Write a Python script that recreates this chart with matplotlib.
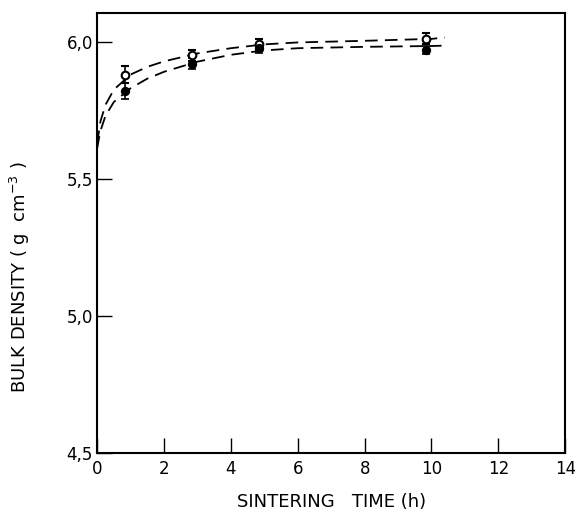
import matplotlib
matplotlib.use("Agg")
import matplotlib.pyplot as plt

# measured points (sintering time in h, bulk density in g/cm3)
time_pts = [0.82, 2.85, 4.85, 9.85]
dens_open = [5.88, 5.95, 5.99, 6.01]
err_open = [0.03, 0.02, 0.02, 0.02]
dens_filled = [5.82, 5.92, 5.975, 5.97]
err_filled = [0.03, 0.02, 0.015, 0.015]

# dashed fit curves
curve_x_open = [0, 0.05, 0.1, 0.25, 0.5, 1, 1.5, 2, 3, 4, 5, 6, 8, 10, 10.4]
curve_y_open = [5.63, 5.67, 5.71, 5.77, 5.825, 5.88, 5.908, 5.928, 5.957, 5.976, 5.99, 5.997, 6.003, 6.01, 6.015]
curve_x_filled = [0, 0.05, 0.1, 0.25, 0.5, 1, 1.5, 2, 3, 4, 5, 6, 8, 10, 10.3]
curve_y_filled = [5.61, 5.645, 5.675, 5.73, 5.78, 5.83, 5.865, 5.89, 5.927, 5.952, 5.968, 5.976, 5.981, 5.984, 5.985]

x_ticks = [0, 2, 4, 6, 8, 10, 12, 14]
y_ticks = [4.5, 5.0, 5.5, 6.0]
y_labels = ["4,5", "5,0", "5,5", "6,0"]

plt.rcParams['font.family'] = ['DejaVu Sans']

fig = plt.figure(figsize=(5.75, 5.13), dpi=100)
ax = fig.add_axes([0.169, 0.117, 0.814, 0.858])

ax.plot(curve_x_open, curve_y_open, color='black', linestyle=(0, (7, 4)), linewidth=1.3)
ax.plot(curve_x_filled, curve_y_filled, color='black', linestyle=(0, (7, 4)), linewidth=1.3)

ax.errorbar(time_pts, dens_open, yerr=err_open, fmt='o', mfc='white', mec='black',
            ms=5.5, mew=1.5, ecolor='black', elinewidth=1.2, capsize=3, zorder=3)
ax.errorbar(time_pts, dens_filled, yerr=err_filled, fmt='o', mfc='black', mec='black',
            ms=5.5, mew=1.2, ecolor='black', elinewidth=1.2, capsize=3, zorder=3)

ax.set_xlim(0, 14)
ax.set_ylim(4.5, 6.105)
ax.set_xticks(x_ticks)
ax.set_yticks(y_ticks)
ax.set_yticklabels(y_labels)
ax.tick_params(direction='in', length=11, width=1.0, labelsize=12, pad=3)
ax.tick_params(axis='x', pad=5)
ax.tick_params(right=False, top=False)

for s in ax.spines.values():
    s.set_linewidth(1.5)

ax.set_xlabel("SINTERING   TIME (h)", fontsize=13, labelpad=11)
ax.set_ylabel("BULK DENSITY ( g  cm$^{-3}$ )", fontsize=13)
ax.yaxis.set_label_coords(-0.14, 0.40)

fig.savefig("out.png", dpi=100)
